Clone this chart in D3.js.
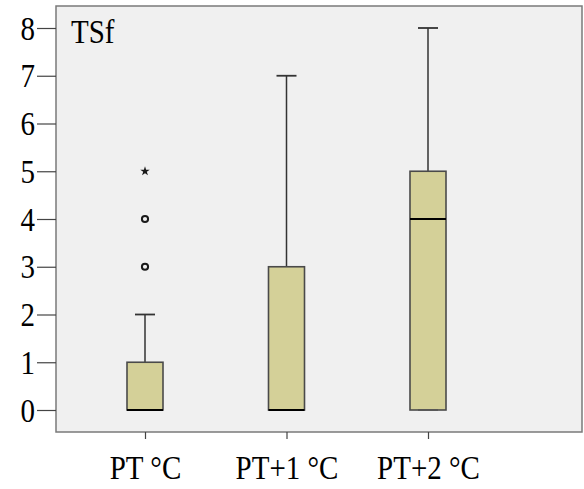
<!DOCTYPE html>
<html>
<head>
<meta charset="utf-8">
<script src="https://cdn.jsdelivr.net/npm/d3@7"></script>
<style>
  html, body { margin: 0; padding: 0; background: #ffffff; }
  svg { display: block; }
  text { font-family: "Liberation Serif", "Times New Roman", serif; fill: #000; }
</style>
</head>
<body>
<svg id="chart" width="584" height="489"></svg>
<script>
// Box plot summaries for TSf under three temperature treatments
const categories   = ["PT \u00B0C", "PT+1 \u00B0C", "PT+2 \u00B0C"];
const whiskerLow   = [0, 0, 0];
const q1           = [0, 0, 0];
const medians      = [0, 0, 4];
const q3           = [1, 3, 5];
const whiskerHigh  = [2, 7, 8];
const outlierCircles = [[3, 4], [], []];
const outlierStars   = [[5], [], []];
const yTicks       = [0, 1, 2, 3, 4, 5, 6, 7, 8];
const panelLabel   = "TSf";

const svg = d3.select("#chart");

const frame = { left: 56, top: 6, right: 582, bottom: 432 };

const y = d3.scaleLinear().domain([0, 8]).range([410, 28]);
const x = d3.scalePoint().domain(categories).range([145, 428]);

const boxW = 36, capW = 20;

// plot background and frame
svg.append("rect")
  .attr("x", frame.left).attr("y", frame.top)
  .attr("width", frame.right - frame.left)
  .attr("height", frame.bottom - frame.top)
  .attr("fill", "#f0f0f0")
  .attr("stroke", "#7a7a7a")
  .attr("stroke-width", 1.5);

// text is slightly taller than wide in this layout
const sy = 1.15;

// y axis
const yAxis = d3.axisLeft(y).tickValues(yTicks).tickSize(19).tickPadding(2).tickFormat(d3.format("d"));
const gy = svg.append("g").attr("transform", `translate(${frame.left},0)`).call(yAxis);
gy.select(".domain").remove();
gy.selectAll(".tick line").attr("stroke", "#444").attr("stroke-width", 1.2);
gy.selectAll(".tick text")
  .attr("font-size", 29)
  .attr("font-family", "Liberation Serif, serif")
  .attr("dy", null)
  .attr("dominant-baseline", "central")
  .attr("transform", function() { return `translate(-21,0) scale(1,${sy}) translate(21,0)`; });

// x axis
const xAxis = d3.axisBottom(x).tickSize(7).tickPadding(0);
const gx = svg.append("g").attr("transform", `translate(0,${frame.bottom})`).call(xAxis);
gx.select(".domain").remove();
gx.selectAll(".tick line").attr("stroke", "#444").attr("stroke-width", 1.2);
gx.selectAll(".tick text").remove();
gx.selectAll(".tick").append("text")
  .attr("text-anchor", "middle")
  .attr("font-size", 29)
  .attr("transform", `translate(0,47) scale(1,${sy})`)
  .text(d => d);

// boxes
const data = categories.map((c, i) => ({
  c, lo: whiskerLow[i], q1: q1[i], med: medians[i], q3: q3[i], hi: whiskerHigh[i],
  circles: outlierCircles[i], stars: outlierStars[i]
}));

const g = svg.append("g");
const item = g.selectAll("g.box").data(data).join("g").attr("class", "box")
  .attr("transform", d => `translate(${x(d.c)},0)`);

// upper whisker
item.append("line")
  .attr("x1", 0).attr("x2", 0)
  .attr("y1", d => y(d.q3)).attr("y2", d => y(d.hi))
  .attr("stroke", "#333").attr("stroke-width", 1.5);
item.append("line")
  .attr("x1", -capW / 2).attr("x2", capW / 2)
  .attr("y1", d => y(d.hi)).attr("y2", d => y(d.hi))
  .attr("stroke", "#333").attr("stroke-width", 1.8);

// box body
item.append("rect")
  .attr("x", -boxW / 2).attr("width", boxW)
  .attr("y", d => y(d.q3)).attr("height", d => y(d.q1) - y(d.q3))
  .attr("fill", "#d4d098").attr("stroke", "#4a4a4a").attr("stroke-width", 1.6);

// lower whisker cap
item.append("line")
  .attr("x1", -capW / 2).attr("x2", capW / 2)
  .attr("y1", d => y(d.lo)).attr("y2", d => y(d.lo))
  .attr("stroke", "#555").attr("stroke-width", 1.6);

// median
item.append("line")
  .attr("x1", -boxW / 2).attr("x2", boxW / 2)
  .attr("y1", d => y(d.med)).attr("y2", d => y(d.med))
  .attr("stroke", "#000").attr("stroke-width", 2.2);

// outliers
item.each(function(d) {
  const sel = d3.select(this);
  sel.selectAll("circle.out").data(d.circles).join("circle").attr("class", "out")
    .attr("cx", 0).attr("cy", v => y(v)).attr("r", 3.1)
    .attr("fill", "none").attr("stroke", "#1a1a1a").attr("stroke-width", 2);
  sel.selectAll("path.ext").data(d.stars).join("path").attr("class", "ext")
    .attr("d", d3.symbol().type(d3.symbolStar).size(28))
    .attr("transform", v => `translate(0,${y(v)})`)
    .attr("fill", "#1a1a1a");
});

// panel label
svg.append("text")
  .attr("font-size", 29)
  .attr("transform", `translate(71,43) scale(1,${sy})`)
  .text(panelLabel);
</script>
</body>
</html>
